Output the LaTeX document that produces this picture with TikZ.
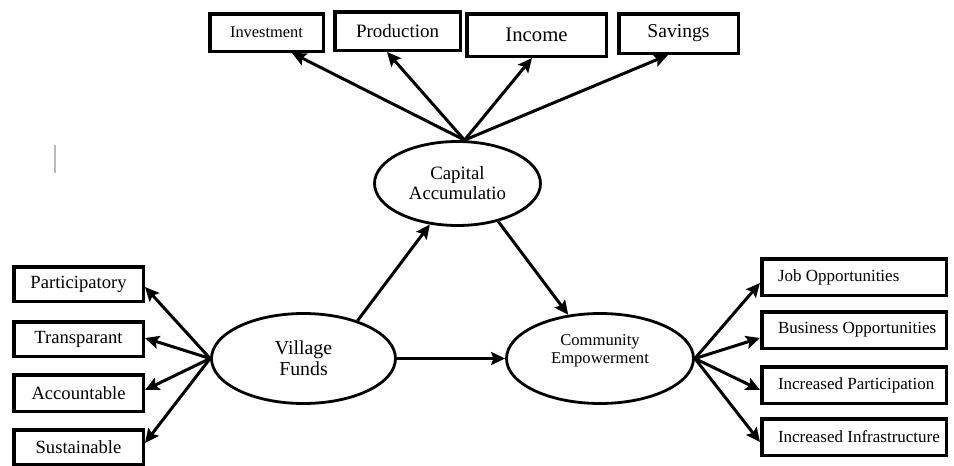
\documentclass[tikz,border=0pt]{standalone}
\usepackage{fontspec}
\setmainfont{Liberation Serif}
\usetikzlibrary{arrows.meta,shapes.geometric}
\newcommand{\fsz}[2]{\fontsize{#1}{#2}\selectfont}
\newcommand{\rtext}[1]{\makebox[152pt][l]{#1}}
\tikzset{
  box/.style={draw, line width=3.5pt, inner sep=0pt, align=center},
  rbox/.style={draw, line width=3.5pt, inner ysep=0pt, inner xsep=16.25pt, minimum width=184.5pt, minimum height=36.5pt, font={\fsz{17}{20}}},
  lbox/.style={box, minimum width=129.5pt, minimum height=34.5pt, font={\fsz{18.6}{21}}},
  oval/.style={draw, ellipse, line width=2.8pt, inner sep=0pt, align=center},
  arr/.style={line width=3pt, -{Stealth[length=14pt,width=13pt,inset=2.5pt]}},
}
\begin{document}
\begin{tikzpicture}[x=1pt,y=-1pt]
\useasboundingbox (0,0) rectangle (954,466);
\fill[white] (0,0) rectangle (954,466);

% top boxes
\node[box, minimum width=113.5pt, minimum height=37.5pt, font={\fsz{16.4}{19}}] (inv) at (266.5,32.5) {Investment};
\node[box, minimum width=125.5pt, minimum height=38.5pt, font={\fsz{18.9}{22}}] (prod) at (397.5,31) {Production};
\node[box, minimum width=139.5pt, minimum height=42.5pt, font={\fsz{20.7}{24}}] (inc) at (536.5,35) {Income};
\node[box, minimum width=119.5pt, minimum height=39.5pt, font={\fsz{19.6}{23}}] (sav) at (678.5,33.5) {Savings};

% ellipses
\node[oval, minimum width=166pt, minimum height=84pt, font={\fsz{18.8}{20}}] (cap) at (457.5,183.5) {Capital\\Accumulatio};
\node[oval, minimum width=184pt, minimum height=90pt, font={\fsz{19.8}{21}}] (vf) at (303.5,358.5) {Village\\Funds};
\node[oval, minimum width=187pt, minimum height=90pt, font={\fsz{16.6}{17.5}}] (ce) at (600,358.5) {\raisebox{3pt}[0pt][0pt]{\begin{tabular}{@{}c@{}}Community\\Empowerment\end{tabular}}};

% left boxes
\node[lbox] (par) at (78.5,284) {Participatory};
\node[lbox] (tra) at (78.5,339) {Transparant};
\node[lbox, minimum height=36.5pt] (acc) at (78.5,393) {Accountable};
\node[lbox] (sus) at (78.5,447) {Sustainable};

% right boxes
\node[rbox] (job) at (854,277) {\rtext{Job Opportunities}};
\node[rbox] (bus) at (854,330) {\rtext{Business Opportunities}};
\node[rbox] (ipa) at (854,385) {\rtext{Increased Participation}};
\node[rbox] (inf) at (854,437) {\rtext{Increased Infrastructure}};

% arrows from capital accumulation to top boxes
\coordinate (ctop) at ([xshift=7pt]cap.north);
\draw[arr] (ctop) -- ([xshift=25.5pt]inv.south);
\draw[arr] (ctop) -- ([xshift=-10.5pt]prod.south);
\draw[arr] (ctop) -- ([xshift=-4.5pt]inc.south);
\draw[arr] (ctop) -- ([xshift=-10.5pt]sav.south);

% arrows from village funds to left boxes
\draw[arr] (vf.west) -- ([yshift=-3pt]par.east);
\draw[arr] (vf.west) -- ([yshift=1pt]tra.east);
\draw[arr] (vf.west) -- ([yshift=3pt]acc.east);
\draw[arr] (vf.west) -- ([yshift=4pt]sus.east);

% arrows from community empowerment to right boxes
\draw[arr] (ce.east) -- ([yshift=-6pt]job.west);
\draw[arr] (ce.east) -- ([yshift=-8pt]bus.west);
\draw[arr] (ce.east) -- ([yshift=-5pt]ipa.west);
\draw[arr] (ce.east) -- ([yshift=-5pt]inf.west);

% middle arrows
\draw[arr] (vf.35) -- (cap.236);
\draw[arr] (cap.317) -- (ce.126);
\draw[arr] (vf.east) -- (ce.west);

% stray mark
\draw[gray!55, line width=1.2pt] (55,145) -- (55,173);
\end{tikzpicture}
\end{document}
